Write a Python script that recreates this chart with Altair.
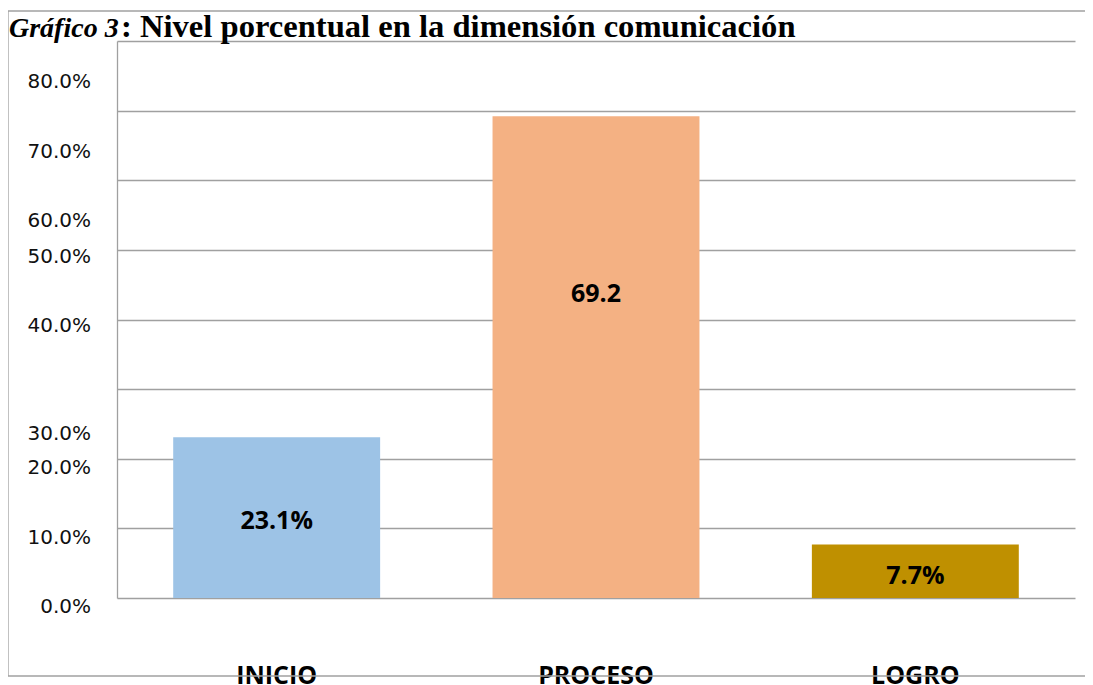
import altair as alt
import pandas as pd

categories = ["INICIO", "PROCESO", "LOGRO"]
values = [23.1, 69.2, 7.7]
bar_labels = ["23.1%", "69.2", "7.7%"]
label_at = [11.0, 43.7, 3.2]
bar_colors = ["#9DC3E6", "#F4B183", "#BF9000"]

grid_values = [0, 10, 20, 30, 40, 50, 60, 70, 80]
tick_labels = ["0.0%", "10.0%", "20.0%", "30.0%", "40.0%", "50.0%", "60.0%", "70.0%", "80.0%"]
tick_label_at = [-1.3, 8.6, 18.6, 23.5, 39.0, 49.0, 54.1, 64.1, 74.1]

title_italic = "Gráfico 3"
title_rest = ": Nivel porcentual en la dimensión comunicación"

bars_df = pd.DataFrame({"cat": categories, "val": values, "lab": bar_labels, "at": label_at})
ticks_df = pd.DataFrame({"t": tick_labels, "at": tick_label_at})
one = pd.DataFrame({"a": [0]})

yscale = alt.Scale(domain=[0, 80], nice=False, zero=True)
xenc = alt.X("cat:N", sort=categories,
             scale=alt.Scale(paddingInner=0.352, paddingOuter=0.176),
             axis=alt.Axis(title=None, ticks=False, domain=False, labelAngle=0,
                           labelFont="Open Sans", labelFontSize=25, labelFontWeight="bold",
                           labelColor="#000000", labelBaseline="alphabetic", labelPadding=85))

bars = alt.Chart(bars_df).mark_bar().encode(
    x=xenc,
    y=alt.Y("val:Q", scale=yscale,
            axis=alt.Axis(title=None, values=grid_values, labels=False, ticks=False,
                          grid=True, gridColor="#A0A0A0", gridWidth=1.3,
                          domain=True, domainColor="#A0A0A0", domainWidth=1.3)),
    color=alt.Color("cat:N", sort=categories,
                    scale=alt.Scale(domain=categories, range=bar_colors), legend=None),
)

bar_text = alt.Chart(bars_df).mark_text(
    font="Open Sans", fontSize=25, fontWeight="bold", color="#000000", baseline="middle"
).encode(
    x=alt.X("cat:N", sort=categories),
    y=alt.Y("at:Q", scale=yscale),
    text="lab:N",
)

tick_text = alt.Chart(ticks_df).mark_text(
    font="DejaVu Sans", fontSize=20, color="#111111", align="right", baseline="middle"
).encode(
    x=alt.value(-26),
    y=alt.Y("at:Q", scale=yscale),
    text="t:N",
)

frame_style = dict(color="#A0A0A0", strokeWidth=1.3)
frame_top = alt.Chart(one).mark_rule(**frame_style).encode(
    x=alt.value(-109), x2=alt.value(990), y=alt.value(-30)
)
frame_bottom = alt.Chart(one).mark_rule(**frame_style).encode(
    x=alt.value(-109), x2=alt.value(990), y=alt.value(635)
)
frame_left = alt.Chart(one).mark_rule(**frame_style).encode(
    x=alt.value(-109), y=alt.value(-30), y2=alt.value(635)
)

t1 = alt.Chart(one).mark_text(
    text=title_italic, font="Liberation Serif", fontSize=28, fontWeight="bold",
    fontStyle="italic", align="left", baseline="alphabetic", color="#000000"
).encode(x=alt.value(-108), y=alt.value(-4))

t2 = alt.Chart(one).mark_text(
    text=title_rest, font="Liberation Serif", fontSize=32.6, fontWeight="bold",
    align="left", baseline="alphabetic", color="#000000"
).encode(x=alt.value(4), y=alt.value(-4))

chart = alt.layer(bars, bar_text, tick_text, frame_top, frame_bottom, frame_left, t1, t2).resolve_scale(
    y="shared", x="shared"
).properties(
    width=958, height=557, autosize="none",
    padding={"left": 109, "top": 33, "right": 10, "bottom": 87},
).configure_view(stroke=None)

chart.save("out.html", embed_options={"renderer": "svg", "actions": False})
